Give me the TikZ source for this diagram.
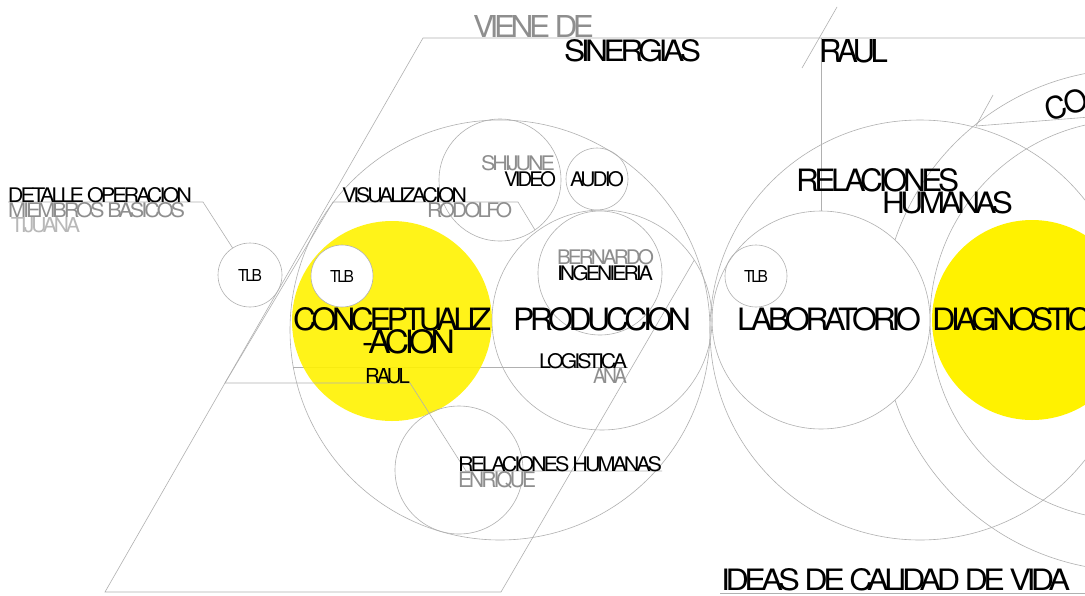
\documentclass[tikz,border=0pt]{standalone}
\usepackage{fontspec}
\setmainfont{TeX Gyre Heros}[LetterSpace=-14]
\usepackage{graphicx}
\newcommand\fitt[3]{\resizebox{#1pt}{#2pt}{#3}}
\definecolor{lin}{HTML}{B0B0B0}
\definecolor{ylw}{HTML}{FFF200}
\definecolor{gtx}{HTML}{8E8E8E}
\definecolor{ltx}{HTML}{B8B8B8}
\begin{document}
\begin{tikzpicture}[x=1pt,y=-1pt,
  ln/.style={draw=lin,line width=0.6pt},
  circ/.style={circle,draw=lin,line width=0.6pt,inner sep=0pt,outer sep=0pt,minimum size=#1},
  ybl/.style={circle,fill=ylw,inner sep=0pt,outer sep=0pt,minimum size=#1},
  txt/.style={inner sep=0pt,outer sep=0pt,anchor=base west,text=black},
  gtxt/.style={txt,text=gtx},
  ltxt/.style={txt,text=ltx},
  ctxt/.style={inner sep=0pt,outer sep=0pt,anchor=center,text=black}]
\useasboundingbox (0,0) rectangle (1085,595);
\fill[white] (0,0) rectangle (1085,595);
\clip (0,0) rectangle (1085,595);

% coordinates
\coordinate (ptl) at (423,38);
\coordinate (ptr) at (1090,38);
\coordinate (pbl) at (105,592);
\coordinate (pbr) at (501,592);
\coordinate (rtop) at (821,38);
\coordinate (s1) at (837,7);
\coordinate (s2) at (802,68);
\coordinate (cj) at (976,126);
\coordinate (cr) at (1090,117);
\coordinate (cs) at (993,95);
\coordinate (dj0) at (8,202);
\coordinate (dj) at (203,202);
\coordinate (vj) at (518,202);
\coordinate (v0) at (333,202);
\coordinate (rj0) at (225,383);
\coordinate (rj1) at (410,383);
\coordinate (rhj) at (466,471);
\coordinate (rhe) at (662,471);
\coordinate (lj) at (628,367);
\coordinate (iu0) at (720,593);
\coordinate (iu1) at (1090,593);

% big circles
\node[circ=420pt] (b1) at (500,330) {};
\node[circ=420pt] (b2) at (920,330) {};
\node[circ=400pt] (b3) at (1130,320) {};
\node[circ=502pt] (b4) at (1133,320) {};

% faint leader under the yellow
\draw[ln] (b1.190 |- lj) -- (lj);

% yellow discs
\node[ybl=200pt,fill opacity=0.9] (con) at (392,321) {};
\node[ybl=200pt] (dia) at (1032,320) {};

% laboratory (opaque)
\node[circ=218pt,fill=white] (lab) at (821,320) {};

% small circles
\node[circ=64pt] (tlb1) at (250,275) {};
\node[circ=62pt,fill=white] (tlb2) at (342,276) {};
\node[circ=62pt] (tlb3) at (756,276) {};
\node[circ=122pt] (video) at (500,180) {};
\node[circ=62pt] (audio) at (597,179) {};
\node[circ=220pt] (prod) at (602,320) {};
\node[circ=124pt] (ing) at (600,273) {};
\node[circ=128pt] (relh) at (459,470) {};

% lines
\draw[ln] (ptr) -- (ptl) -- (pbl) -- (pbr) -- (prod.33);
\draw[ln] (rtop) -- (lab.north);
\draw[ln] (s1) -- (s2);
\draw[ln] (cj) -- (cr);
\draw[ln] (cj) -- (cs);
\draw[ln] (dj0) -- (dj) -- (tlb1);
\draw[ln] (video.305) -- (vj) -- (v0) -- (rj0) -- (rj1) -- (rhj) -- (rhe);
\draw[ln] (iu0) -- (iu1);

% texts
\node[gtxt] (viene) at (473,37) {\fitt{121}{22}{VIENE DE}};
\node[txt] (siner) at (564,61) {\fitt{137}{22}{SINERGIAS}};
\node[txt] (raul1) at (819,62) {\fitt{69}{23}{RAUL}};
\node[txt] (relr) at (796,191) {\fitt{163}{23}{RELACIONES}};
\node[txt] (humr) at (882,213) {\fitt{131}{22}{HUMANAS}};
\node[txt,rotate=16] (co) at (1048,121) {\fitt{44}{23}{\addfontfeature{LetterSpace=-4}CO}};
\node[txt] (det) at (8,202) {\fitt{184}{15}{DETALLE OPERACION}};
\node[gtxt] (mie) at (8,217) {\fitt{177}{15}{MIEMBROS BASICOS}};
\node[ltxt] (tij) at (11,232) {\fitt{69}{15}{TIJUANA}};
\node[txt] (vis) at (342,202) {\fitt{125}{15}{VISUALIZACION}};
\node[gtxt] (rod) at (427,217) {\fitt{85}{15}{RODOLFO}};
\node[gtxt] (shi) at (481,170) {\fitt{74}{15}{SHIJUNE}};
\node[txt] (vid) at (504,186) {\fitt{52}{15}{VIDEO}};
\node[txt] (aud) at (570,186) {\fitt{54}{15}{AUDIO}};
\node[ctxt] (tlbt1) at (tlb1) {\fitt{24}{12}{TLB}};
\node[ctxt] (tlbt2) at (tlb2) {\fitt{24}{12}{TLB}};
\node[ctxt] (tlbt3) at (tlb3) {\fitt{24}{12}{TLB}};
\node[txt] (conc) at (293,330) {\fitt{198}{23}{CONCEPTUALIZ}};
\node[txt] (acion) at (362,353) {\fitt{93}{24}{-ACION}};
\node[txt] (raul2) at (365,383) {\fitt{45}{15}{RAUL}};
\node[txt] (prodt) at (513,330) {\fitt{178}{23}{PRODUCCION}};
\node[gtxt] (bern) at (557,264) {\fitt{97}{15}{BERNARDO}};
\node[txt] (inge) at (557,280) {\fitt{96}{15}{INGENIERIA}};
\node[txt] (log) at (539,368) {\fitt{88}{15}{LOGISTICA}};
\node[gtxt] (ana) at (593,383) {\fitt{34}{15}{ANA}};
\node[txt] (relh2) at (458,471) {\fitt{204}{15}{RELACIONES HUMANAS}};
\node[gtxt] (enr) at (458,487) {\fitt{78}{16}{ENRIQUE}};
\node[txt] (labt) at (737,330) {\fitt{184}{23}{LABORATORIO}};
\node[txt] (diat) at (932,330) {\fitt{159}{23}{DIAGNOSTIC}};
\node[txt] (ideas) at (721,590) {\fitt{349}{22}{IDEAS DE CALIDAD DE VIDA}};
\end{tikzpicture}
\end{document}
